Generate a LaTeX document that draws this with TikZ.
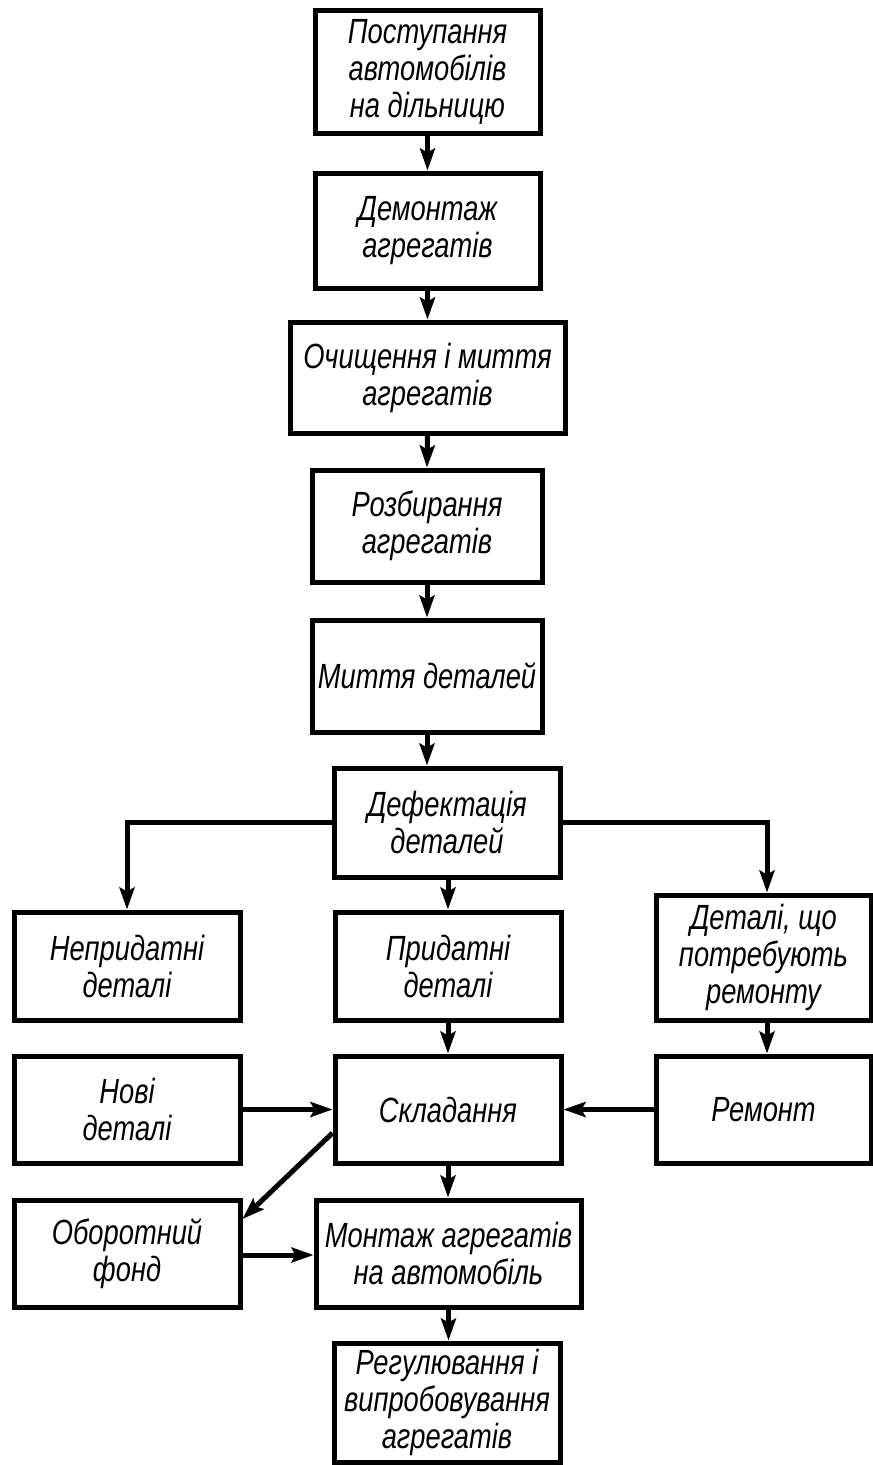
\documentclass[tikz,border=0pt]{standalone}
\usepackage{fontspec}
\usetikzlibrary{arrows.meta}
\newfontfamily\gost[FakeStretch=0.78]{Liberation Sans}
\begin{document}
\begin{tikzpicture}[x=1pt,y=-1pt,
  blk/.style={draw=black, line width=5pt, line join=miter, align=center, inner sep=0pt,
    font=\gost\itshape\fontsize{35}{37}\selectfont},
  conn/.style={line width=5pt, line join=miter, -{Stealth[length=22pt,width=15pt,inset=4pt]}}]
\useasboundingbox (0,0) rectangle (873,1465);
\fill[white] (0,0) rectangle (873,1465);
% boxes
\node[blk, minimum width=225pt, minimum height=123pt] (b1) at (427.5,71.5) {Поступання\\автомобілів\\на дільницю};
\node[blk, minimum width=225pt, minimum height=115pt] (b2) at (427.5,230.5) {Демонтаж\\агрегатів};
\node[blk, minimum width=275pt, minimum height=111pt] (b3) at (427.5,377.5) {Очищення і миття\\агрегатів};
\node[blk, minimum width=230pt, minimum height=112pt] (b4) at (427,526) {Розбирання\\агрегатів};
\node[blk, minimum width=230pt, minimum height=112pt] (b5) at (427,676) {Миття деталей};
\node[blk, minimum width=226pt, minimum height=109pt] (b6) at (447,822.5) {Дефектація\\деталей};
\node[blk, minimum width=226pt, minimum height=108pt] (b7) at (127,966) {Непридатні\\деталі};
\node[blk, minimum width=226pt, minimum height=108pt] (b8) at (448,966) {Придатні\\деталі};
\node[blk, minimum width=215pt, minimum height=125pt] (b9) at (763.5,957.5) {Деталі, що\\потребують\\ремонту};
\node[blk, minimum width=226pt, minimum height=107pt] (b10) at (127,1109.5) {Нові\\деталі};
\node[blk, minimum width=226pt, minimum height=107pt] (b11) at (448,1109.5) {Складання};
\node[blk, minimum width=215pt, minimum height=107pt] (b12) at (763.5,1109.5) {Ремонт};
\node[blk, minimum width=226pt, minimum height=107pt] (b13) at (127,1253.5) {Оборотний\\фонд};
\node[blk, minimum width=265pt, minimum height=107pt] (b14) at (448.5,1253.5) {Монтаж агрегатів\\на автомобіль};
\node[blk, minimum width=226pt, minimum height=119pt] (b15) at (447,1402.5) {Регулювання і\\випробовування\\агрегатів};
% helper coordinates
\coordinate (rx) at (767,0);
\coordinate (dA) at (0,1133);
\coordinate (dB) at (0,1219);
\coordinate (oy) at (0,1255);
% connectors
\draw[conn] (b1.south) -- (b2.north);
\draw[conn] (b2.south) -- (b3.north);
\draw[conn] (b3.south) -- (b4.north);
\draw[conn] (b4.south) -- (b5.north);
\draw[conn] (b5.south) -- (b5.south |- b6.north);
\draw[conn] (b6.west) -| (b7.north);
\draw[conn] (b6.south -| b8.north) -- (b8.north);
\draw[conn] (b6.east) -| (rx |- b9.north);
\draw[conn] (b8.south) -- (b11.north);
\draw[conn] (rx |- b9.south) -- (rx |- b12.north);
\draw[conn] (b10.east) -- (b11.west);
\draw[conn] (b12.west) -- (b11.east);
\draw[conn] (b11.south) -- (b11.south |- b14.north);
\draw[conn] (b11.west |- dA) -- (b13.east |- dB);
\draw[conn] (b13.east |- oy) -- (b14.west |- oy);
\draw[conn] (b14.south) -- (b14.south |- b15.north);
\end{tikzpicture}
\end{document}
